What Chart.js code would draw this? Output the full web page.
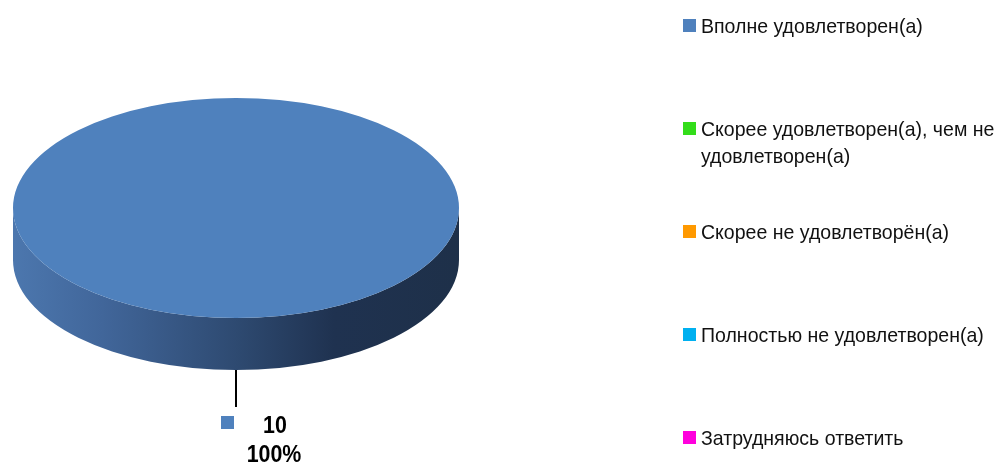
<!DOCTYPE html>
<html>
<head>
<meta charset="utf-8">
<script src="https://cdn.jsdelivr.net/npm/chart.js@4"></script>
<style>
  html, body { margin: 0; padding: 0; background: #fff; }
  canvas { display: block; }
</style>
</head>
<body>
<canvas id="chart" width="1001" height="463"></canvas>
<script>
// -------------------------------------------------------------------
// Data
// -------------------------------------------------------------------
const categories = [
  "Вполне удовлетворен(а)",
  ["Скорее удовлетворен(а), чем не", "удовлетворен(а)"],
  "Скорее не удовлетворён(а)",
  "Полностью не удовлетворен(а)",
  "Затрудняюсь ответить"
];
const answers = [10, 0, 0, 0, 0];
const colors  = ["#4f81bd", "#33dd1a", "#ff9900", "#00b0f0", "#ff00dd"];

// -------------------------------------------------------------------
// Look of the tilted pie
// -------------------------------------------------------------------
const PIE_X   = 236;    // centre of the top face
const PIE_Y   = 208;
const TILT    = 110 / 223; // vertical squash of the disc
const DEPTH   = 52;     // thickness of the disc
const SQUEEZE = 0.93;   // narrow text
const FONT    = '"Liberation Sans", Arial, sans-serif';

function narrowText(ctx, text, x, y, align) {
  ctx.save();
  ctx.translate(x, y);
  ctx.scale(SQUEEZE, 1);
  ctx.textAlign = align || "left";
  ctx.fillText(text, 0, 0);
  ctx.restore();
}

// the front wall of the disc, then squash the arcs into an ellipse
const tiltPie = {
  id: "tiltPie",
  beforeDatasetsDraw(chart) {
    const ctx  = chart.ctx;
    const meta = chart.getDatasetMeta(0);
    meta.data.forEach((arc, i) => {
      const { startAngle, endAngle, outerRadius: r } = arc.getProps(["startAngle", "endAngle", "outerRadius"]);
      if (endAngle - startAngle <= 0) return;
      const ry = r * TILT;
      // visible part of the wall lies between 0 and PI (and 2PI..3PI)
      [[0, Math.PI], [2 * Math.PI, 3 * Math.PI]].forEach(([lo, hi]) => {
        const a0 = Math.max(startAngle, lo);
        const a1 = Math.min(endAngle, hi);
        if (a1 <= a0) return;
        const g = ctx.createLinearGradient(PIE_X - r, 0, PIE_X + r, 0);
        g.addColorStop(0.00, "#4c77ae");
        g.addColorStop(0.20, "#41669a");
        g.addColorStop(0.50, "#2e4a71");
        g.addColorStop(0.72, "#1f3250");
        g.addColorStop(1.00, "#1e3049");
        ctx.save();
        ctx.beginPath();
        ctx.ellipse(PIE_X, PIE_Y, r, ry, 0, a0, a1, false);
        ctx.ellipse(PIE_X, PIE_Y + DEPTH, r, ry, 0, a1, a0, true);
        ctx.closePath();
        ctx.fillStyle = g;
        ctx.fill();
        ctx.restore();
      });
    });
    const arc0 = meta.data[0];
    ctx.save();
    ctx.translate(PIE_X, PIE_Y);
    ctx.scale(1, TILT);
    ctx.translate(-arc0.x, -arc0.y);
  },
  afterDatasetsDraw(chart) {
    chart.ctx.restore();
  },
  afterDraw(chart) {
    const ctx   = chart.ctx;
    const meta  = chart.getDatasetMeta(0);
    const data  = chart.data.datasets[0].data;
    const total = data.reduce((s, v) => s + v, 0);

    // value labels with leader lines
    meta.data.forEach((arc, i) => {
      if (!data[i]) return;
      const { startAngle, endAngle, outerRadius: r } = arc.getProps(["startAngle", "endAngle", "outerRadius"]);
      const mid = (startAngle + endAngle) / 2;
      const x = PIE_X + Math.cos(mid) * r;
      const y = PIE_Y + Math.sin(mid) * r * TILT + DEPTH;
      ctx.save();
      ctx.strokeStyle = "#000";
      ctx.lineWidth = 2;
      ctx.beginPath();
      ctx.moveTo(x, y);
      ctx.lineTo(x, y + 37);
      ctx.stroke();
      ctx.fillStyle = colors[i];
      ctx.fillRect(x - 15, y + 46, 13, 13);
      ctx.fillStyle = "#000";
      ctx.font = "bold 23px " + FONT;
      narrowText(ctx, String(data[i]), x + 39, y + 63, "center");
      narrowText(ctx, Math.round(data[i] / total * 100) + "%", x + 38, y + 92, "center");
      ctx.restore();
    });

    // legend
    ctx.save();
    ctx.font = "21px " + FONT;
    chart.data.labels.forEach((label, i) => {
      const base = 33 + i * 103;
      ctx.fillStyle = colors[i];
      ctx.fillRect(683, base - 14, 13, 13);
      ctx.fillStyle = "#111";
      const lines = Array.isArray(label) ? label : [label];
      lines.forEach((t, k) => narrowText(ctx, t, 701, base + k * 27));
    });
    ctx.restore();
  }
};

// -------------------------------------------------------------------
// Chart
// -------------------------------------------------------------------
new Chart(document.getElementById("chart"), {
  type: "pie",
  data: {
    labels: categories,
    datasets: [{
      data: answers,
      backgroundColor: colors,
      borderWidth: 0
    }]
  },
  options: {
    responsive: false,
    animation: false,
    events: [],
    layout: { padding: { left: 13, right: 542, top: 0, bottom: 17 } },
    plugins: {
      legend:  { display: false },
      tooltip: { enabled: false }
    }
  },
  plugins: [tiltPie]
});
</script>
</body>
</html>
